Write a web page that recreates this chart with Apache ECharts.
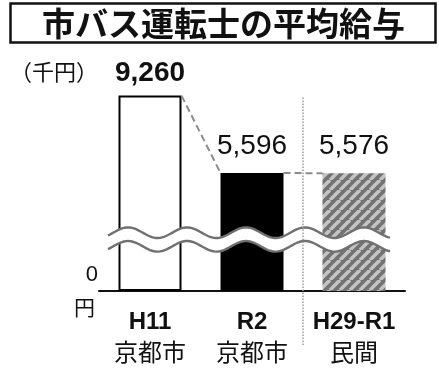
<!DOCTYPE html>
<html>
<head>
<meta charset="utf-8">
<script src="https://cdn.jsdelivr.net/npm/echarts@6/dist/echarts.min.js"></script>
<style>
  html, body { margin: 0; padding: 0; background: #fff; }
  #chart { width: 439px; height: 374px; }
</style>
</head>
<body>
<div id="chart"></div>
<script>
// 市バス運転士の平均給与（千円）
const categories = ['H11', 'R2', 'H29-R1'];
const subLabels = ['京都市', '京都市', '民間'];
const salaries = [9260, 5596, 5576];
const unitLabel = '（千円）';
const titleText = '市バス運転士の平均給与';

const BAR_WIDTH = 63;
const FONT = '"Liberation Sans", "Noto Sans CJK JP", sans-serif';
const CJK = '"Noto Sans CJK JP", "Liberation Sans", sans-serif';

// diagonal hatch used for the private-sector bar
function hatchPattern() {
  const s = 10;
  const c = document.createElement('canvas');
  c.width = s; c.height = s;
  const g = c.getContext('2d');
  g.fillStyle = '#727272';
  g.fillRect(0, 0, s, s);
  g.strokeStyle = '#c4c4c4';
  g.lineWidth = 3.6;
  for (let k = -1; k <= 1; k++) {
    g.beginPath();
    g.moveTo(k * s, s);
    g.lineTo(k * s + s, 0);
    g.stroke();
  }
  return c;
}

const barStyles = [
  { color: '#ffffff', borderColor: '#000000', borderWidth: 2 },
  { color: '#000000' },
  { color: { image: hatchPattern(), repeat: 'repeat' } }
];
const labelStyles = [
  { fontWeight: 'bold', fontSize: 28, distance: 8 },
  { fontWeight: 'normal', fontSize: 28, distance: 13 },
  { fontWeight: 'normal', fontSize: 28, distance: 13 }
];

const barData = salaries.map((v, i) => ({
  value: v,
  itemStyle: barStyles[i],
  label: labelStyles[i]
}));

// dashed connectors between neighbouring bar tops
const connectorData = salaries.slice(0, -1).map((v, i) => [i, v, i + 1, salaries[i + 1]]);

const chart = echarts.init(document.getElementById('chart'), null, { renderer: 'canvas' });

chart.setOption({
  animation: false,
  backgroundColor: '#ffffff',
  title: {
    text: titleText,
    left: 10,
    top: 3,
    padding: [3, 31, 3, 32],
    borderColor: '#111',
    borderWidth: 2.5,
    textStyle: { fontFamily: CJK, fontSize: 33, fontWeight: 'bold', color: '#111', lineHeight: 34 }
  },
  graphic: [{
    type: 'text',
    left: 10,
    top: 61,
    style: { text: unitLabel, font: '22px ' + CJK, fill: '#111' }
  }],
  grid: { left: 99, right: 34, top: 80, bottom: 83 },
  xAxis: {
    type: 'category',
    data: categories,
    axisLine: { lineStyle: { color: '#111', width: 2 } },
    axisTick: { show: false },
    axisLabel: {
      margin: 17,
      interval: 0,
      formatter: (v, i) => '{a|' + v + '}\n{b|' + subLabels[i] + '}',
      rich: {
        a: { fontFamily: FONT, fontSize: 24, fontWeight: 'bold', color: '#111', lineHeight: 29 },
        b: { fontFamily: CJK, fontSize: 24, color: '#111', lineHeight: 29 }
      }
    }
  },
  yAxis: {
    type: 'value',
    min: 0,
    max: 10000,
    interval: 10000,
    splitLine: { show: false },
    axisLine: { show: false },
    axisTick: { show: false },
    axisLabel: {
      margin: 1,
      formatter: v => (v === 0 ? '{a|0}\n{b|円}' : ''),
      rich: {
        a: { fontFamily: FONT, fontSize: 22, color: '#111', lineHeight: 32, align: 'right' },
        b: { fontFamily: CJK, fontSize: 21, color: '#111', lineHeight: 32, align: 'right', padding: [0, 3, 0, 0] }
      }
    }
  },
  series: [
    {
      type: 'bar',
      barWidth: BAR_WIDTH,
      data: barData,
      z: 2,
      label: {
        show: true,
        position: 'top',
        color: '#111',
        fontFamily: FONT,
        formatter: p => p.value.toLocaleString('en-US')
      }
    },
    {
      // connectors between bar tops
      type: 'custom',
      z: 3,
      clip: false,
      data: connectorData,
      renderItem: (params, api) => {
        const a = api.coord([api.value(0), api.value(1)]);
        const b = api.coord([api.value(2), api.value(3)]);
        const h = BAR_WIDTH / 2;
        return {
          type: 'line',
          shape: { x1: a[0] + h, y1: a[1], x2: b[0] - h, y2: b[1] },
          style: { stroke: '#8c8c8c', lineWidth: 2, lineDash: [7, 4] }
        };
      }
    },
    {
      // wavy break band across the lower part of the bars
      type: 'custom',
      z: 4,
      clip: false,
      data: [[2440]],
      renderItem: (params, api) => {
        const c0 = api.coord([0, 0]);
        const c2 = api.coord([2, 0]);
        const mid = api.coord([0, api.value(0)])[1];
        const xStart = c0[0] - 42;
        const xEnd = c2[0] + 36;
        const amp = 5.3, period = 59, phase = c0[0] - 22;
        const gap = 6.8;
        const upper = [], lower = [];
        for (let x = xStart; x <= xEnd + 0.01; x += 2) {
          const w = -amp * Math.cos(2 * Math.PI * (x - phase) / period);
          upper.push([x, mid - gap + w]);
          lower.push([x, mid + gap + w]);
        }
        const band = upper.concat(lower.slice().reverse());
        return {
          type: 'group',
          children: [
            { type: 'polygon', shape: { points: band }, style: { fill: '#ffffff' } },
            { type: 'polyline', shape: { points: upper }, style: { stroke: '#707070', lineWidth: 2.4, fill: null } },
            { type: 'polyline', shape: { points: lower }, style: { stroke: '#707070', lineWidth: 2.4, fill: null } }
          ]
        };
      }
    },
    {
      // dotted divider between municipal and private figures
      type: 'custom',
      z: 5,
      clip: false,
      data: [[1, 2, 9260]],
      renderItem: (params, api) => {
        const p1 = api.coord([api.value(0), 0]);
        const p2 = api.coord([api.value(1), 0]);
        const top = api.coord([0, api.value(2)])[1];
        const x = (p1[0] + p2[0]) / 2;
        return {
          type: 'line',
          shape: { x1: x, y1: top + 2, x2: x, y2: p1[1] + 55 },
          style: { stroke: '#9a9a9a', lineWidth: 1.5, lineDash: [1.5, 1.5] }
        };
      }
    }
  ]
});
</script>
</body>
</html>
